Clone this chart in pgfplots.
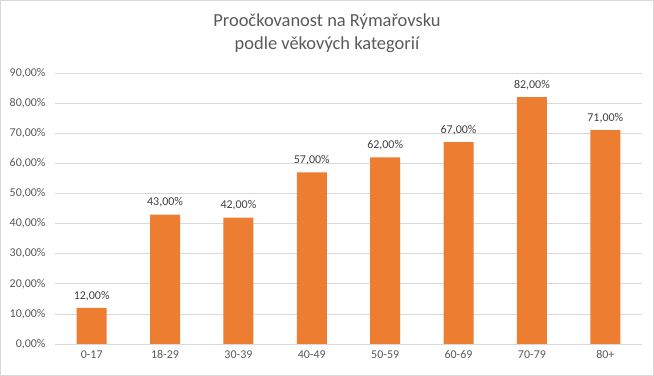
\documentclass[border=0pt]{standalone}
\usepackage{pgfplots}
\pgfplotsset{compat=1.18}
\usepackage{fontspec}
\setmainfont{Carlito}
\definecolor{barorange}{HTML}{ED7D31}
\definecolor{txt}{HTML}{595959}
\definecolor{lbl}{HTML}{404040}
\definecolor{gridc}{HTML}{D9D9D9}
\begin{document}
\begin{tikzpicture}
\begin{axis}[name=ax, scale only axis, width=587bp, height=271bp,
  ymin=0, ymax=90, xmin=-0.5, xmax=7.5,
  ytick={0,10,...,90}, xtick=data,
  xticklabels={0-17,18-29,30-39,40-49,50-59,60-69,70-79,80+},
  ybar, bar width=30bp,
  ymajorgrids, grid style={gridc, line width=0.75bp},
  axis line style={draw=none}, major tick length=0pt,
  /pgf/number format/assume math mode=true,
  yticklabel={\pgfmathprintnumber[fixed,fixed zerofill,precision=2,use comma]{\tick}\%},
  yticklabel style={font=\fontsize{12}{14}\selectfont, text=txt, xshift=-6bp},
  xticklabel style={font=\fontsize{12}{14}\selectfont, text=txt, yshift=-3bp},
  nodes near coords={\pgfmathprintnumber[fixed,fixed zerofill,precision=2,use comma]{\pgfplotspointmeta}\%},
  nodes near coords style={font=\fontsize{12}{14}\selectfont, text=lbl, yshift=3.5bp},
]
\addplot[fill=barorange, draw=none] coordinates {(0,12) (1,43) (2,42) (3,57) (4,62) (5,67) (6,82) (7,71)};
\end{axis}
\node[align=center, font=\fontsize{18.5}{23}\selectfont, text=txt] at ([xshift=272bp, yshift=39.5bp]ax.north west) {Proočkovanost na Rýmařovsku\\podle věkových kategorií};
\draw[gridc, line width=1bp] ([shift={(-54.5bp,-31.5bp)}]ax.south west) rectangle ([shift={(11.5bp,72.5bp)}]ax.north east);
\pgfresetboundingbox
\useasboundingbox ([shift={(-55bp,-32bp)}]ax.south west) rectangle ([shift={(12bp,73bp)}]ax.north east);
\end{tikzpicture}
\end{document}
